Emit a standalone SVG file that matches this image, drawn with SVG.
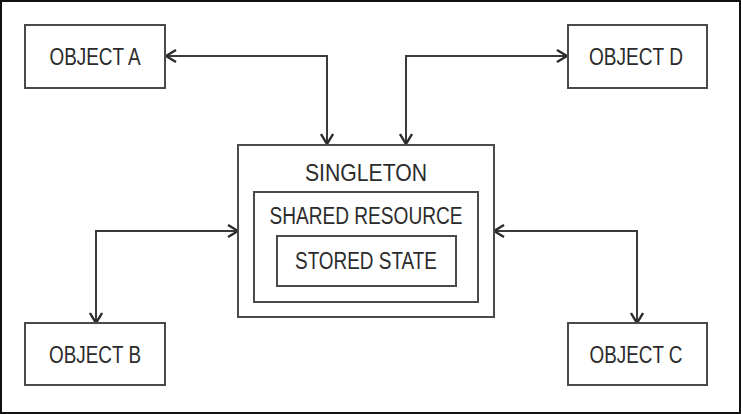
<svg xmlns="http://www.w3.org/2000/svg" width="741" height="414" viewBox="0 0 741 414">
<defs>
<style>
.box{fill:#fff;stroke:#4a4a4a;stroke-width:2}
.t{font-family:"Liberation Sans",Arial,sans-serif;font-size:23px;fill:#2b2b2b;text-anchor:middle}
.c{fill:none;stroke:#3a3a3a;stroke-width:2}
</style>
<marker id="ah" viewBox="0 0 12 14" refX="11" refY="7" markerWidth="12" markerHeight="14" markerUnits="userSpaceOnUse" orient="auto-start-reverse">
<path d="M1,1 L11,7 L1,13" fill="none" stroke="#2b2b2b" stroke-width="2.4"/>
</marker>
</defs>
<rect x="0" y="0" width="741" height="414" fill="#fff"/>
<rect x="1" y="1" width="739" height="412" fill="none" stroke="#111" stroke-width="2"/>
<g id="connectors">
<path class="c" d="M166,56 H327 V144" marker-start="url(#ah)" marker-end="url(#ah)"/>
<path class="c" d="M406,144 V56 H567" marker-start="url(#ah)" marker-end="url(#ah)"/>
<path class="c" d="M238,231 H96 V323" marker-start="url(#ah)" marker-end="url(#ah)"/>
<path class="c" d="M494,231 H637 V323" marker-start="url(#ah)" marker-end="url(#ah)"/>
</g>
<g id="objA">
<rect class="box" x="25" y="25" width="140" height="63"/>
<text class="t" x="95" y="64.5" textLength="91" lengthAdjust="spacingAndGlyphs">OBJECT A</text>
</g>
<g id="objD">
<rect class="box" x="568" y="25" width="139" height="63"/>
<text class="t" x="636" y="64.5" textLength="94" lengthAdjust="spacingAndGlyphs">OBJECT D</text>
</g>
<g id="objB">
<rect class="box" x="25" y="323" width="140" height="62"/>
<text class="t" x="95" y="362.5" textLength="92" lengthAdjust="spacingAndGlyphs">OBJECT B</text>
</g>
<g id="objC">
<rect class="box" x="568" y="323" width="139" height="62"/>
<text class="t" x="636" y="362.5" textLength="93" lengthAdjust="spacingAndGlyphs">OBJECT C</text>
</g>
<g id="singleton">
<rect class="box" x="238" y="145" width="256" height="172"/>
<text class="t" x="366" y="181" style="font-size:24px" textLength="122" lengthAdjust="spacingAndGlyphs">SINGLETON</text>
</g>
<g id="shared">
<rect class="box" x="254" y="192" width="224" height="110"/>
<text class="t" x="366" y="223.5" textLength="193" lengthAdjust="spacingAndGlyphs">SHARED RESOURCE</text>
</g>
<g id="stored">
<rect class="box" x="277" y="236" width="179" height="50"/>
<text class="t" x="366" y="269" textLength="142" lengthAdjust="spacingAndGlyphs">STORED STATE</text>
</g>
</svg>
